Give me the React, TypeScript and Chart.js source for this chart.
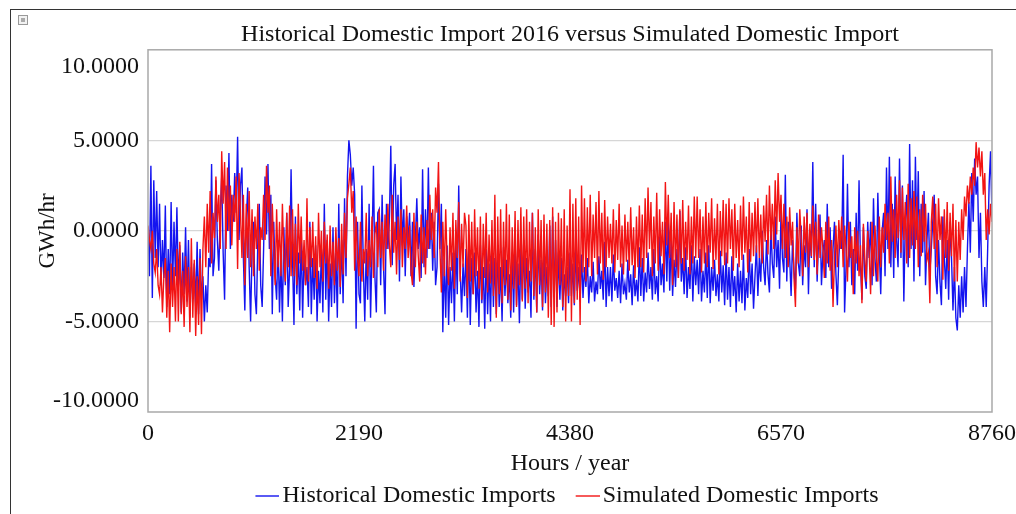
import React, { useEffect, useRef } from "react";
import { Chart, registerables } from "chart.js";

Chart.register(...registerables);

const TITLE = "Historical Domestic Import 2016 versus Simulated Domestic Import";
const X_LABEL = "Hours / year";
const Y_LABEL = "GWh/hr";
const SERIES_NAMES = ["Historical Domestic Imports", "Simulated Domestic Imports"];
const SERIES_COLORS = ["#1414f0", "#f21414"];
const X_TICKS = [0, 2190, 4380, 6570, 8760];
const Y_TICKS = [-10, -5, 0, 5, 10];
const STEP_HOURS = 15;

// Historical domestic imports (GWh/hr), one reading every 15 hours
const HISTORICAL = [
  0.2, -2.5, 3.6, -3.7, 2.8, -1.5, 2.2, -2.0, 1.5, -3.0, -0.5, -2.6, 1.4, -4.2, -1.0, -3.5, 1.6, -3.2, 0.5, -2.5,
  1.3, -3.0, -0.8, -4.5, -1.2, -3.5, 0.2, -3.9, -0.5, -4.8, -2.0, -3.6, -1.8, -4.2, -0.6, -4.6, -1.0, -3.8, -2.5, -5.0,
  -3.0, -4.5, -1.5, -2.0, 3.7, -2.5, -1.5, 2.8, -0.5, -2.2, 1.0, 3.0, -1.2, -3.8, 2.5, 0.0, 4.3, -1.0, 2.0, 0.5,
  3.2, 1.0, 5.2, -0.5, 2.5, 3.5, -1.5, -4.4, 0.5, 2.4, -2.0, -5.0, -1.0, 0.5, -3.5, -4.6, -0.5, 1.5, -3.0, -4.2,
  -1.0, 3.0, -0.2, 3.7, -1.0, 2.0, -4.6, 0.5, -2.5, -3.8, -0.5, -4.5, -1.5, -5.0, 0.2, -3.0, 1.0, -4.2, -2.0, 3.4,
  -1.5, -5.2, 0.8, -3.5, -1.2, -4.4, -0.2, -4.8, -1.0, -3.0, -2.0, -4.2, 0.5, -4.6, -1.5, -3.8, -0.8, -5.0, -2.2, -4.0,
  -1.0, -4.5, 1.5, -3.8, -0.5, -5.0, -1.8, -4.2, 0.2, -4.0, -1.2, -4.8, 1.5, -3.5, -0.5, -4.0, 1.8, -2.5, 3.0, 5.0,
  4.2, 2.5, 3.5, 2.0, -5.4, 0.5, -3.5, -4.0, 2.5, -2.0, -5.0, -1.0, -3.8, 1.5, -4.8, -1.0, 3.6, -2.5, -4.5, 1.0,
  1.2, -3.0, 2.0, -2.0, -4.6, 1.5, -1.0, 0.5, 4.7, -1.9, 2.5, 3.7, -0.5, 2.0, -2.8, 3.0, -0.8, 1.2, -2.5, 0.8,
  -0.5, 1.0, -2.5, 0.5, -3.1, -0.5, 1.8, -1.0, 0.2, -2.6, 3.4, -2.0, 1.2, -1.5, 3.5, -1.0, 1.0, -2.2, 0.5, -3.0,
  -2.0, 2.6, -1.0, 1.5, -5.6, -1.5, -4.8, -0.8, -5.2, -2.0, -4.0, -1.2, -5.0, -0.5, -3.5, 2.5, -2.2, -4.5, -1.8, -3.6,
  -1.0, -4.8, -0.5, -5.2, -1.5, -3.5, -1.2, -4.5, -2.2, -5.3, -0.8, -4.0, -2.0, -5.4, -1.0, -4.6, -1.8, -5.0, -0.6, -4.2,
  -1.5, -4.6, -0.8, -4.2, -2.0, -5.0, -0.9, -3.6, -1.6, -4.0, -2.4, -4.8, -1.2, -4.5, -0.4, -4.1, -1.8, -5.1, -1.0, -3.8,
  -0.5, -4.3, -1.5, -3.4, -2.2, -4.8, 1.0, -3.8, -1.0, -4.5, -0.2, -3.5, -1.6, -4.4, -0.8, -4.0, -2.0, -3.6, 0.3, -4.2,
  0.8, -3.5, -0.5, -4.2, -1.2, -3.8, -1.5, -4.4, -2.4, -3.6, -2.0, -4.0, -1.2, -3.6, -1.8, -4.1, -0.9, -3.3, -2.0, -3.9,
  -1.3, -3.7, -2.0, -3.1, -1.5, -4.0, -2.5, -3.4, -1.7, -3.9, -2.8, -3.5, -1.4, -3.2, -2.2, -3.8, -0.6, -4.2, -2.0, -3.6,
  -2.0, -3.9, -1.3, -3.3, -2.6, -3.7, -2.2, -4.0, -1.8, -3.5, -2.9, -3.8, -1.6, -3.4, -2.4, -4.1, -1.9, -3.6, -2.7, -3.9,
  -0.9, -3.6, -1.5, -3.9, -2.3, -3.4, -1.2, -3.2, -2.0, -3.8, -1.0, -3.5, -2.5, -3.9, -0.3, -3.0, -1.8, -3.4, 0.5, -2.8,
  0.5, -3.3, -0.5, -3.6, -1.6, -3.1, -1.0, -2.6, 1.1, -2.8, -1.5, -3.5, -0.9, -3.7, -2.0, -3.2, -0.8, -3.9, -1.4, -3.0,
  -1.6, -3.5, -1.0, -3.9, -2.2, -3.4, -1.2, -3.7, -0.8, -4.0, -2.0, -3.3, -1.6, -3.6, -2.4, -3.9, -1.1, -3.4, -1.9, -4.1,
  -1.2, -3.8, -2.0, -4.2, -1.4, -3.6, -2.5, -4.5, -1.8, -3.9, -2.2, -4.0, -1.3, -4.4, -2.6, -3.7, -1.0, -3.5, -1.8, -4.3,
  -2.5, -0.8, -3.6, -1.5, -2.8, 0.0, -2.0, -3.0, -0.5, -2.4, -3.4, 0.3, -1.8, -2.6, 0.8, -2.0, -0.5, -3.2, 1.0, -1.5,
  -2.3, 3.1, -2.8, 0.5, -1.5, -3.6, -0.5, -2.2, -3.2, 1.0, -1.8, -2.5, 0.3, -3.0, -0.8, -2.0, 1.2, -3.5, 0.0, -1.5,
  3.8, -2.0, 1.5, -2.8, -0.5, 0.9, -3.0, -1.2, -0.5, -2.6, 1.5, -2.0, 0.2, -3.2, -1.0, 0.5, -2.4, -4.1, -1.5, 0.0,
  -1.0, 4.2, -4.5, -2.0, 2.6, -2.0, 0.5, -3.0, -1.0, -3.5, 1.0, -2.2, 2.8, -1.8, -3.8, 0.2, -2.5, -3.2, 0.5, -1.5,
  0.5, -3.0, 1.8, -1.5, -2.8, 2.1, -1.0, -3.5, 0.0, 1.0, -2.5, 3.5, -1.0, 4.1, -2.0, 1.5, -2.6, 3.0, -0.5, -2.0,
  4.0, -1.5, 2.5, -3.9, 0.5, 2.0, -2.0, 4.8, -1.0, 2.8, -2.8, 4.1, -0.5, 3.3, -2.5, 1.5, -1.2, 2.2, -3.0, -0.5,
  1.0, -2.3, -1.0, 0.5, 2.0, -2.5, -3.5, -0.5, -2.8, -4.1, 0.8, -1.5, -3.2, -0.5, -3.8, 0.5, -1.5, -4.4, -2.0, -4.8,
  -5.5, -3.0, -4.8, -2.5, -4.5, -2.0, -4.2, -1.0, 1.6, -1.2, 3.2, 0.5, 4.0, 2.0, 3.0, -1.5, 1.0, -2.8, -4.2, -2.0,
  -4.2, -1.0, 2.5, 4.4, 0.8,
];

// Simulated domestic imports (GWh/hr), one reading every 15 hours
const SIMULATED = [
  0.3, -0.5, -1.0, 0.0, -1.8, -2.3, -1.0, -3.0, -3.5, -2.0, -4.5, -2.5, -1.5, -4.8, -2.2, -5.6, -1.8, -4.2, -2.0, -5.0,
  -1.0, -5.0, -0.6, -4.6, -2.2, -5.3, -1.4, -4.2, -2.0, -5.6, -0.4, -4.8, -1.6, -5.8, -2.5, -5.2, -1.5, -5.7, -1.0, 0.8,
  -2.0, 1.5, -1.2, 2.2, -1.8, 1.0, -0.4, 3.0, 0.5, 2.0, -1.0, 4.4, 1.5, 3.8, -1.0, 3.5, 0.0, 2.5, -0.8, 2.0,
  0.5, 3.0, -2.1, 3.2, 1.0, -1.5, 2.0, -3.0, 1.5, -1.5, 2.2, -2.0, 1.2, -2.5, 0.8, -1.0, 1.5, -2.2, 0.2, -0.5,
  2.0, -0.5, 3.6, 1.0, 2.5, -2.5, 1.5, -1.0, -3.0, 1.2, -2.0, 0.5, -2.5, 1.5, -1.5, -2.8, 1.0, -2.0, 1.4, -2.5,
  1.2, -2.5, 0.4, -3.0, 1.5, -1.8, 0.8, -2.2, -0.5, -3.0, 1.8, -2.8, 0.2, -2.0, 0.5, -2.6, -0.3, -3.2, 1.0, -2.0,
  0.0, -2.8, 0.5, -1.8, -0.2, -3.2, 0.3, -2.5, -0.6, -3.0, 0.2, -2.2, -0.4, -3.1, 0.4, -2.4, 1.0, -1.5, 1.8, 2.6,
  3.5, 1.0, 2.2, -2.2, 0.8, -1.5, -2.5, 0.5, -2.8, -1.0, -1.8, 1.0, -2.5, -0.5, -2.0, 0.8, -2.6, -0.2, 0.5, -2.0,
  1.2, -1.5, 0.5, -2.2, 0.9, -1.0, 1.5, -0.8, -2.0, 2.0, -1.2, 0.5, -2.4, 0.8, -1.6, 1.2, -2.0, 0.2, -1.0, 1.4,
  -1.5, 0.3, -2.2, -3.0, 1.0, -2.0, 0.5, -1.4, -2.8, 0.9, -1.8, 0.2, -2.4, 0.6, -1.0, 2.0, -0.5, 1.2, -1.5, 2.4,
  1.0, 3.8, -1.0, -3.4, 0.5, -2.5, 1.2, -1.8, -3.0, 0.2, -2.2, 1.0, -3.2, 0.6, -1.5, 1.6, -2.8, 0.4, -2.0, 1.0,
  0.3, -3.7, 0.9, -2.8, 0.5, -3.5, 1.2, -2.5, 0.2, -3.2, 0.8, -3.8, 0.4, -2.6, 1.0, -3.4, -0.2, -2.9, 0.6, -3.6,
  2.0, -4.8, 0.8, -3.5, 1.2, -4.0, 0.5, -3.0, 1.5, -3.8, 0.9, -4.4, 0.2, -3.2, 1.1, -4.2, 0.6, -3.0, 1.3, -3.9,
  0.8, -3.2, 1.2, -4.0, 0.5, -2.8, 1.0, -3.6, 0.2, -4.5, 1.2, -3.0, 0.6, -4.2, 0.9, -3.4, 0.4, -4.8, 0.6, -5.2,
  1.3, -5.3, 0.5, -4.5, 1.0, -3.0, 0.7, -4.2, 1.2, -5.0, 0.3, -3.6, 2.3, -5.0, 1.5, -4.0, 1.8, -3.8, 0.8, -5.2,
  2.5, -2.3, 1.8, -2.8, 1.3, -2.0, 2.0, -2.5, 0.9, -1.5, 1.6, -2.4, 2.2, -1.8, 1.0, -2.7, 1.7, -2.0, 0.8, -1.5,
  0.4, -1.8, 1.2, -2.3, 0.6, -1.6, 1.5, -2.0, 0.3, -2.4, 0.9, -1.7, 0.5, -2.2, 1.3, -1.9, 0.2, -2.6, 0.8, -2.0,
  1.4, -2.0, 0.9, -2.3, 1.8, -1.5, 2.4, -1.0, 1.6, -2.5, 0.8, -1.8, 2.1, -2.2, 1.2, -1.4, 0.5, -2.4, 2.7, -0.8,
  2.0, -1.5, 1.0, -3.0, 1.6, -2.0, 0.9, -2.6, 1.2, -1.8, 1.7, -2.2, 0.5, -1.6, 1.4, -2.4, 0.8, -1.8, 1.9, -1.5,
  1.9, -1.5, 1.2, -2.3, 0.8, -1.8, 1.6, -2.0, 1.0, -1.2, 1.8, -2.1, 0.7, -1.6, 1.5, -2.4, 1.1, -1.4, 1.7, -1.9,
  1.5, -1.8, 1.8, -1.0, 1.2, -2.2, 1.5, -1.5, 0.6, -2.0, 1.4, -1.6, 1.9, -1.2, 0.8, -2.3, 1.6, -1.7, 1.0, -1.4,
  1.6, -1.2, 1.8, -1.5, 0.9, -1.8, 1.4, -0.6, 2.0, -1.3, 2.5, -0.5, 1.5, -1.0, 2.8, -0.2, 3.2, 0.5, 2.0, -1.0,
  1.5, -1.5, 0.8, -2.0, 1.3, -0.8, 0.5, -2.6, -4.2, 0.2, -1.8, 1.2, -0.5, -2.5, 0.8, -1.2, 1.0, -2.0, 0.4, -1.4,
  1.4, -1.6, 0.5, -2.4, 0.9, -1.5, 0.2, -1.0, -2.6, 0.5, -1.8, 0.8, -2.2, -0.5, -4.2, -1.5, 0.3, -2.0, 0.6, -1.0,
  0.8, -2.0, 0.3, -1.0, -2.8, 0.5, -1.5, -0.3, -3.5, 0.2, -1.8, 0.0, -2.5, -0.8, -4.0, 0.4, -1.5, -2.8, 0.0, -1.2,
  -3.5, 0.5, -2.5, 0.3, -1.5, -2.8, 0.8, -2.0, 0.2, -1.2, 1.5, -0.5, 1.0, -1.8, 3.0, -0.6, 1.2, -1.5, 2.0, -0.4,
  2.8, -1.2, 2.4, -0.5, 1.6, -1.8, 2.6, -1.5, 1.8, -0.8, 2.2, -1.0, 1.9, -2.0, 1.2, -1.4, 2.0, -0.6, 1.5, -1.6,
  -1.2, -4.0, 0.5, 1.9, -1.0, 1.5, -2.0, 1.8, -0.5, 0.8, -2.7, 1.2, -1.5, 1.6, -2.2, 1.0, -1.4, 1.5, -2.8, 0.6,
  -2.8, 0.5, -1.6, 1.2, -0.5, 1.9, 0.8, 2.5, 1.5, 3.0, 2.0, 3.5, 2.5, 4.9, 3.5, 4.6, 3.0, 4.4, 2.0, 3.2,
  -0.5, 1.2, -0.2, 1.5, 0.5,
];

const FONT_FAMILY = "'Liberation Serif', 'Times New Roman', serif";

const framePlugin = {
  id: "plotFrame",
  afterDatasetsDraw(chart: any) {
    const { ctx, chartArea } = chart;
    ctx.save();
    ctx.strokeStyle = "#a9a9a9";
    ctx.lineWidth = 1.5;
    ctx.strokeRect(chartArea.left, chartArea.top, chartArea.right - chartArea.left, chartArea.bottom - chartArea.top);
    ctx.restore();
  },
};

// Legend marker: a short line sitting close to the label text
function makeLegendLine(color: string) {
  const c = document.createElement("canvas");
  c.width = 27;
  c.height = 4;
  const g = c.getContext("2d")!;
  g.strokeStyle = color;
  g.lineWidth = 1.4;
  g.beginPath();
  g.moveTo(3, 2);
  g.lineTo(27, 2);
  g.stroke();
  return c;
}

export default function App() {
  const canvasRef = useRef<HTMLCanvasElement | null>(null);

  useEffect(() => {
    if (!canvasRef.current) return;
    const toPoints = (vals: number[]) => vals.map((v, i) => ({ x: i * STEP_HOURS, y: v }));
    const markers = SERIES_COLORS.map(makeLegendLine);
    const chart = new Chart(canvasRef.current, {
      type: "line",
      data: {
        datasets: [
          {
            label: SERIES_NAMES[0],
            data: toPoints(HISTORICAL),
            borderColor: SERIES_COLORS[0],
            backgroundColor: SERIES_COLORS[0],
            borderWidth: 1.4,
            pointRadius: 0,
            pointStyle: markers[0],
            tension: 0,
            order: 1,
          },
          {
            label: SERIES_NAMES[1],
            data: toPoints(SIMULATED),
            borderColor: SERIES_COLORS[1],
            backgroundColor: SERIES_COLORS[1],
            borderWidth: 1.4,
            pointRadius: 0,
            pointStyle: markers[1],
            tension: 0,
            order: 0,
          },
        ],
      },
      options: {
        responsive: false,
        animation: false,
        devicePixelRatio: 1,
        layout: { padding: { left: 0, right: 24, top: 0, bottom: -4 } },
        plugins: {
          title: {
            display: true,
            fullSize: false,
            text: TITLE,
            color: "#111",
            font: { family: FONT_FAMILY, size: 24, weight: "normal" },
            padding: { top: 20, bottom: 1 },
          },
          legend: {
            position: "bottom",
            fullSize: false,
            labels: {
              color: "#111",
              font: { family: FONT_FAMILY, size: 24 },
              usePointStyle: true,
              pointStyleWidth: 9,
              padding: 26,
              sort: (a: any, b: any) => a.datasetIndex - b.datasetIndex,
            },
          },
          tooltip: { enabled: false },
        },
        scales: {
          x: {
            type: "linear",
            min: 0,
            max: 8760,
            afterBuildTicks: (axis: any) => {
              axis.ticks = X_TICKS.map((v) => ({ value: v }));
            },
            afterFit: (axis: any) => {
              axis.height = 46;
              axis.paddingLeft = 0;
              axis.paddingRight = 0;
            },
            ticks: {
              color: "#111",
              font: { family: FONT_FAMILY, size: 24 },
              padding: 7,
              maxRotation: 0,
              autoSkip: false,
              callback: (v: any) => String(v),
            },
            grid: { display: false, drawTicks: false },
            border: { display: false },
            title: {
              display: true,
              text: X_LABEL,
              color: "#111",
              font: { family: FONT_FAMILY, size: 24 },
              padding: { top: 0, bottom: -20 },
            },
          },
          y: {
            type: "linear",
            min: -10,
            max: 10,
            afterBuildTicks: (axis: any) => {
              axis.ticks = Y_TICKS.map((v) => ({ value: v }));
            },
            afterFit: (axis: any) => {
              axis.width = 148;
            },
            ticks: {
              color: "#111",
              font: (ctx: any) => {
                const v = ctx.tick ? ctx.tick.value : 0;
                const lh = v === 10 ? 1.45 : v === -10 ? 0.95 : 1.2;
                return { family: FONT_FAMILY, size: 24, lineHeight: lh };
              },
              padding: 9,
              callback: (v: any) => {
                const s = Number(v).toFixed(4);
                if (v === 10) return ["", s];
                if (v === -10) return [s, ""];
                return s;
              },
            },
            grid: {
              drawTicks: false,
              lineWidth: 1.3,
              color: (ctx: any) =>
                ctx.tick && Math.abs(ctx.tick.value) === 10 ? "rgba(0,0,0,0)" : "#d6d6d6",
            },
            border: { display: false },
            title: {
              display: true,
              text: Y_LABEL,
              color: "#111",
              font: { family: FONT_FAMILY, size: 23 },
              padding: { top: 34, bottom: 0 },
            },
          },
        },
      },
      plugins: [framePlugin],
    } as any);
    return () => chart.destroy();
  }, []);

  return (
    <div style={{ position: "fixed", left: 0, top: 0, width: 1016, height: 514, background: "#fff", overflow: "hidden" }}>
      <div
        style={{
          position: "absolute",
          left: 10,
          top: 9,
          width: 1100,
          height: 600,
          borderLeft: "1.5px solid #333",
          borderTop: "1.5px solid #333",
        }}
      />
      <div
        style={{
          position: "absolute",
          left: 18,
          top: 15,
          width: 8,
          height: 8,
          border: "1px solid #999",
          background: "#f2f2f2",
        }}
      >
        <div style={{ position: "absolute", left: 2, top: 2, width: 4, height: 4, background: "#aaa" }} />
      </div>
      <canvas ref={canvasRef} width={1016} height={514} style={{ position: "absolute", left: 0, top: 0 }} />
    </div>
  );
}
